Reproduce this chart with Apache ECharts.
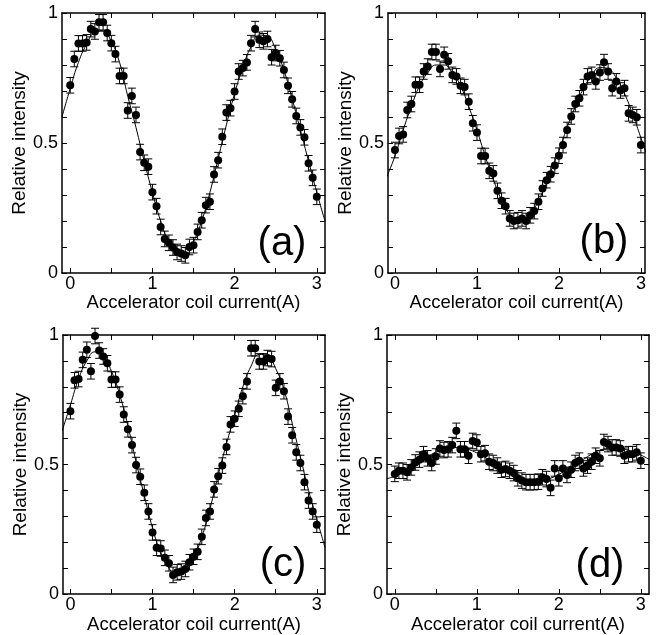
<!DOCTYPE html>
<html>
<head>
<meta charset="utf-8">
<script src="https://cdn.jsdelivr.net/npm/echarts@6/dist/echarts.min.js"></script>
<style>
  html, body { margin: 0; padding: 0; background: #fff; }
  #chart { width: 667px; height: 635px; }
</style>
</head>
<body>
<div id="chart"></div>
<script>
// coil current of the measured points (A)
const X_CURRENT = [0, 0.05, 0.1, 0.15, 0.2, 0.25, 0.3, 0.35, 0.4, 0.45, 0.5, 0.55, 0.6, 0.65, 0.7, 0.75, 0.8, 0.85, 0.9, 0.95,
  1, 1.05, 1.1, 1.15, 1.2, 1.25, 1.3, 1.35, 1.4, 1.45, 1.5, 1.55, 1.6, 1.65, 1.7, 1.75, 1.8, 1.85, 1.9, 1.95,
  2, 2.05, 2.1, 2.15, 2.2, 2.25, 2.3, 2.35, 2.4, 2.45, 2.5, 2.55, 2.6, 2.65, 2.7, 2.75, 2.8, 2.85, 2.9, 2.95, 3];

// measured relative intensity
const A_Y = [0.722, 0.823, 0.883, 0.883, 0.887, 0.938, 0.929, 0.964, 0.964, 0.923, 0.884, 0.842, 0.758, 0.758, 0.625, 0.681, 0.608, 0.465, 0.424, 0.409,
  0.311, 0.257, 0.177, 0.131, 0.116, 0.098, 0.081, 0.075, 0.068, 0.10, 0.107, 0.158, 0.203, 0.261, 0.274, 0.379, 0.434, 0.524, 0.617, 0.634,
  0.698, 0.775, 0.788, 0.810, 0.884, 0.938, 0.897, 0.891, 0.90, 0.830, 0.846, 0.826, 0.781, 0.720, 0.668, 0.604, 0.560, 0.522, 0.422, 0.366, 0.293];
const B_Y = [0.473, 0.527, 0.533, 0.627, 0.650, 0.724, 0.724, 0.775, 0.794, 0.850, 0.850, 0.785, 0.839, 0.814, 0.762, 0.756, 0.720, 0.715, 0.659, 0.576,
  0.540, 0.450, 0.450, 0.393, 0.383, 0.316, 0.278, 0.257, 0.210, 0.200, 0.203, 0.210, 0.200, 0.222, 0.238, 0.274, 0.325, 0.357, 0.380, 0.413,
  0.451, 0.492, 0.550, 0.602, 0.650, 0.672, 0.715, 0.756, 0.762, 0.737, 0.771, 0.811, 0.775, 0.711, 0.737, 0.702, 0.711, 0.614, 0.608, 0.599, 0.492];
const C_Y = [0.706, 0.825, 0.830, 0.904, 0.943, 0.860, 0.996, 0.940, 0.917, 0.891, 0.828, 0.828, 0.770, 0.693, 0.636, 0.575, 0.498, 0.453, 0.391, 0.319,
  0.238, 0.179, 0.176, 0.140, 0.119, 0.074, 0.084, 0.087, 0.097, 0.123, 0.144, 0.163, 0.221, 0.294, 0.319, 0.404, 0.455, 0.496, 0.568, 0.655,
  0.677, 0.715, 0.764, 0.821, 0.949, 0.949, 0.898, 0.898, 0.911, 0.907, 0.796, 0.821, 0.783, 0.685, 0.613, 0.547, 0.506, 0.432, 0.361, 0.319, 0.268];
const D_Y = [0.464, 0.476, 0.476, 0.470, 0.489, 0.508, 0.519, 0.540, 0.524, 0.506, 0.531, 0.562, 0.556, 0.559, 0.575, 0.630, 0.559, 0.559, 0.534, 0.591,
  0.585, 0.540, 0.544, 0.511, 0.506, 0.496, 0.480, 0.483, 0.476, 0.467, 0.447, 0.438, 0.432, 0.432, 0.432, 0.434, 0.451, 0.444, 0.410, 0.485,
  0.447, 0.485, 0.460, 0.480, 0.506, 0.515, 0.485, 0.496, 0.511, 0.534, 0.524, 0.587, 0.579, 0.566, 0.566, 0.562, 0.534, 0.540, 0.540, 0.547, 0.515];
const ERR = [0.03, 0.03, 0.03, 0.03]; // half length of the error bars, per panel

// fitted curves, read every 0.1 A
const FIT_X = [-0.1, 0, 0.1, 0.2, 0.3, 0.4, 0.5, 0.6, 0.7, 0.8, 0.9, 1, 1.1, 1.2, 1.3, 1.4, 1.5,
  1.6, 1.7, 1.8, 1.9, 2, 2.1, 2.2, 2.3, 2.4, 2.5, 2.6, 2.7, 2.8, 2.9, 3, 3.1];
const A_FIT = [0.60, 0.71, 0.81, 0.88, 0.925, 0.93, 0.89, 0.81, 0.68, 0.56, 0.43, 0.31, 0.20, 0.12, 0.08, 0.075, 0.12,
  0.20, 0.31, 0.44, 0.57, 0.69, 0.79, 0.87, 0.915, 0.91, 0.86, 0.78, 0.67, 0.55, 0.43, 0.31, 0.20];
const B_FIT = [0.37, 0.45, 0.55, 0.64, 0.72, 0.77, 0.80, 0.80, 0.77, 0.72, 0.64, 0.55, 0.45, 0.36, 0.28, 0.225, 0.20,
  0.21, 0.25, 0.31, 0.39, 0.47, 0.56, 0.64, 0.71, 0.76, 0.79, 0.785, 0.75, 0.69, 0.61, 0.52, 0.43];
const C_FIT = [0.63, 0.73, 0.83, 0.90, 0.935, 0.92, 0.86, 0.77, 0.65, 0.51, 0.38, 0.255, 0.16, 0.10, 0.07, 0.09, 0.14,
  0.22, 0.33, 0.46, 0.58, 0.69, 0.80, 0.88, 0.925, 0.92, 0.87, 0.79, 0.66, 0.53, 0.40, 0.29, 0.18];
const D_FIT = [0.445, 0.455, 0.47, 0.49, 0.51, 0.53, 0.548, 0.56, 0.566, 0.565, 0.558, 0.545, 0.528, 0.508, 0.488, 0.468, 0.452,
  0.44, 0.435, 0.437, 0.447, 0.462, 0.48, 0.50, 0.52, 0.54, 0.555, 0.563, 0.565, 0.56, 0.55, 0.537, 0.52];

const X_TICKS = [0, 0.5, 1, 1.5, 2, 2.5, 3];
const X_LABELS = [0, 1, 2, 3];
const Y_TICKS = [0, 0.1, 0.2, 0.3, 0.4, 0.5, 0.6, 0.7, 0.8, 0.9, 1];
const Y_LABELS = [0, 0.5, 1];
const PANEL_LABELS = ['(a)', '(b)', '(c)', '(d)'];

const FONT = 'Liberation Sans, Arial, Helvetica, sans-serif';

const panels = [
  { y: A_Y, fit: A_FIT, grid: { left: 62, top: 13, width: 263, height: 260 }, xMin: -0.1, xMax: 3.1, nameGap: 28, label: [282, 244] },
  { y: B_Y, fit: B_FIT, grid: { left: 388, top: 13, width: 257, height: 260 }, xMin: -0.085, xMax: 3.05, nameGap: 32, label: [604, 242] },
  { y: C_Y, fit: C_FIT, grid: { left: 63, top: 335, width: 262, height: 261 }, xMin: -0.09, xMax: 3.1, nameGap: 29, label: [283, 565] },
  { y: D_Y, fit: D_FIT, grid: { left: 387, top: 335, width: 262, height: 261 }, xMin: -0.095, xMax: 3.1, nameGap: 29, label: [600, 566] }
];

let grid = [], xAxis = [], yAxis = [], series = [], graphic = [];

const axisLine = { show: true, onZero: false, lineStyle: { color: '#000', width: 1.5 } };

panels.forEach((p, i) => {
  grid.push(p.grid);
  // bottom + top x axes
  xAxis.push({
    gridIndex: i, type: 'value', position: 'bottom', min: p.xMin, max: p.xMax,
    name: 'Accelerator coil current(A)', nameLocation: 'middle', nameGap: 16,
    nameTextStyle: { fontFamily: FONT, fontSize: 18.5, color: '#000' },
    axisLine: axisLine,
    axisTick: { show: true, inside: true, length: 5, customValues: X_TICKS, lineStyle: { color: '#000' } },
    axisLabel: { show: true, customValues: X_LABELS, margin: 2, fontFamily: FONT, fontSize: 18, color: '#000' },
    splitLine: { show: false }
  });
  xAxis.push({
    gridIndex: i, type: 'value', position: 'top', min: p.xMin, max: p.xMax,
    axisLine: axisLine,
    axisTick: { show: true, inside: true, length: 5, customValues: X_TICKS, lineStyle: { color: '#000' } },
    axisLabel: { show: false },
    splitLine: { show: false }
  });
  // left + right y axes
  yAxis.push({
    gridIndex: i, type: 'value', position: 'left', min: 0, max: 1,
    name: 'Relative intensity', nameLocation: 'middle', nameGap: p.nameGap,
    nameTextStyle: { fontFamily: FONT, fontSize: 19, color: '#000' },
    axisLine: axisLine,
    axisTick: { show: true, inside: true, length: 5, customValues: Y_TICKS, lineStyle: { color: '#000' } },
    axisLabel: { show: true, customValues: Y_LABELS, margin: 4, fontFamily: FONT, fontSize: 18, color: '#000' },
    splitLine: { show: false }
  });
  yAxis.push({
    gridIndex: i, type: 'value', position: 'right', min: 0, max: 1,
    axisLine: axisLine,
    axisTick: { show: true, inside: true, length: 5, customValues: Y_TICKS, lineStyle: { color: '#000' } },
    axisLabel: { show: false },
    splitLine: { show: false }
  });

  const pts = X_CURRENT.map((x, k) => [x, p.y[k], ERR[i]]);

  // fitted curve
  series.push({
    type: 'line', xAxisIndex: 2 * i, yAxisIndex: 2 * i,
    data: FIT_X.map((x, k) => [x, p.fit[k]]),
    smooth: true, symbol: 'none', clip: true,
    lineStyle: { color: '#000', width: 1 }
  });
  // error bars
  series.push({
    type: 'custom', xAxisIndex: 2 * i, yAxisIndex: 2 * i,
    data: pts,
    renderItem: function (params, api) {
      const x = api.value(0), y = api.value(1), e = api.value(2);
      const top = api.coord([x, y + e]);
      const bot = api.coord([x, y - e]);
      const w = 4;
      const st = { stroke: '#000', lineWidth: 1 };
      return {
        type: 'group',
        children: [
          { type: 'line', shape: { x1: top[0], y1: top[1], x2: bot[0], y2: bot[1] }, style: st },
          { type: 'line', shape: { x1: top[0] - w, y1: top[1], x2: top[0] + w, y2: top[1] }, style: st },
          { type: 'line', shape: { x1: bot[0] - w, y1: bot[1], x2: bot[0] + w, y2: bot[1] }, style: st }
        ]
      };
    }
  });
  // points
  series.push({
    type: 'scatter', xAxisIndex: 2 * i, yAxisIndex: 2 * i,
    data: pts.map(d => [d[0], d[1]]),
    symbol: 'circle', symbolSize: 8,
    itemStyle: { color: '#000', opacity: 1 }
  });

  graphic.push({
    type: 'text', x: p.label[0], y: p.label[1],
    style: { text: PANEL_LABELS[i], fontFamily: FONT, fontSize: 40, fill: '#000', textAlign: 'center', textVerticalAlign: 'middle' }
  });
});

const myCharts = echarts.init(document.getElementById('chart'), null, { renderer: 'canvas' });
myCharts.setOption({
  animation: false,
  backgroundColor: '#fff',
  grid: grid,
  xAxis: xAxis,
  yAxis: yAxis,
  series: series,
  graphic: graphic
});
</script>
</body>
</html>
